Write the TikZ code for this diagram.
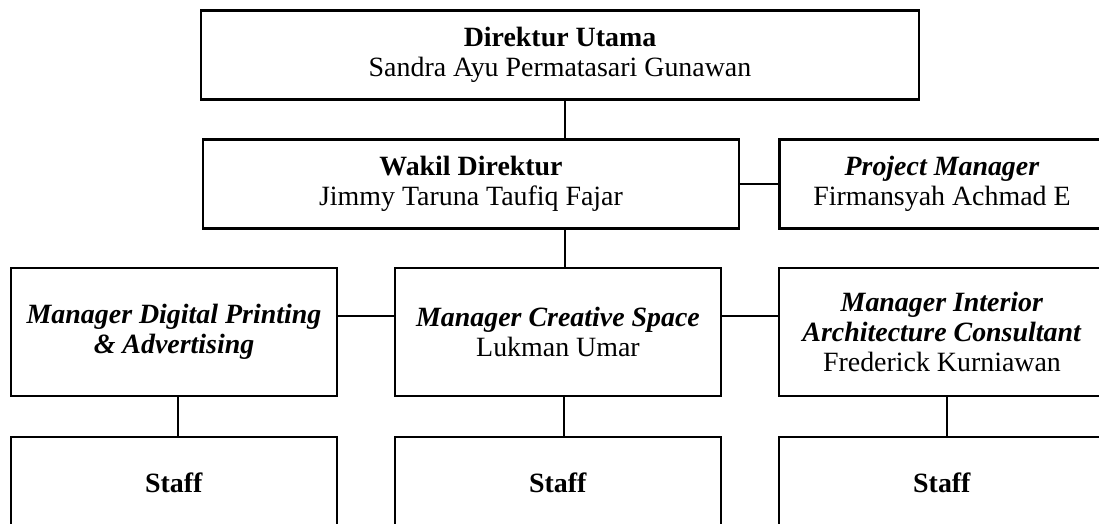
\documentclass[tikz,border=0pt]{standalone}
\usepackage{fontspec}
\setmainfont{Liberation Serif}
\usetikzlibrary{positioning}
\newdimen\pxu
\pxu=0.43pt

\begin{document}
\begin{tikzpicture}[x=0.43pt,y=-0.43pt,
  box/.style={draw,line width=0.95pt,align=center,inner sep=0pt,
    font=\fontsize{12pt}{13pt}\selectfont,minimum width=#1},
  top/.style={box=#1,minimum height=89\pxu},
  mgr/.style={box=326\pxu,minimum height=128\pxu},
  staffbox/.style={box=326\pxu,minimum height=92\pxu},
  link/.style={line width=0.45pt}]
  \useasboundingbox (0,0) rectangle (1099,524);
  \clip (0,0) rectangle (1099,524);
  \node[top=718\pxu] at (560,55) (dirut)
    {\textbf{Direktur Utama}\\Sandra Ayu Permatasari Gunawan};
  \node[top=536\pxu] at (471,184) (wadir)
    {\textbf{Wakil Direktur}\\Jimmy Taruna Taufiq Fajar};
  \node[top=325\pxu] at (942,184) (pm)
    {\textbf{\textit{Project Manager}}\\Firmansyah Achmad E};
  \node[mgr] at (174,332) (mdp)
    {\textbf{\textit{Manager Digital Printing}}\\\textbf{\textit{\& Advertising}}};
  \node[mgr] at (558,332) (mcs)
    {\textbf{\textit{Manager Creative Space}}\\Lukman Umar};
  \node[mgr] at (942,332) (mia)
    {\textbf{\textit{Manager Interior}}\\\textbf{\textit{Architecture Consultant}}\\Frederick Kurniawan};
  \node[staffbox] at (174,483) (sdp) {\textbf{Staff}};
  \node[staffbox] at (558,483) (scs) {\textbf{Staff}};
  \node[staffbox] at (942,483) (sia) {\textbf{Staff}};
  % connectors
  \coordinate (spine) at (565,316);
  \draw[link] (dirut.south -| spine) -- (wadir.north -| spine);
  \draw[link] (wadir.south -| spine) -- (mcs.north -| spine);
  \draw[link] (wadir.east) -- (pm.west);
  \draw[link] (mdp.east |- spine) -- (mcs.west |- spine);
  \draw[link] (mcs.east |- spine) -- (mia.west |- spine);
  \draw[link] ([xshift=4\pxu]mdp.south) -- ([xshift=4\pxu]sdp.north);
  \draw[link] ([xshift=6\pxu]mcs.south) -- ([xshift=6\pxu]scs.north);
  \draw[link] ([xshift=5\pxu]mia.south) -- ([xshift=5\pxu]sia.north);
\end{tikzpicture}
\end{document}
